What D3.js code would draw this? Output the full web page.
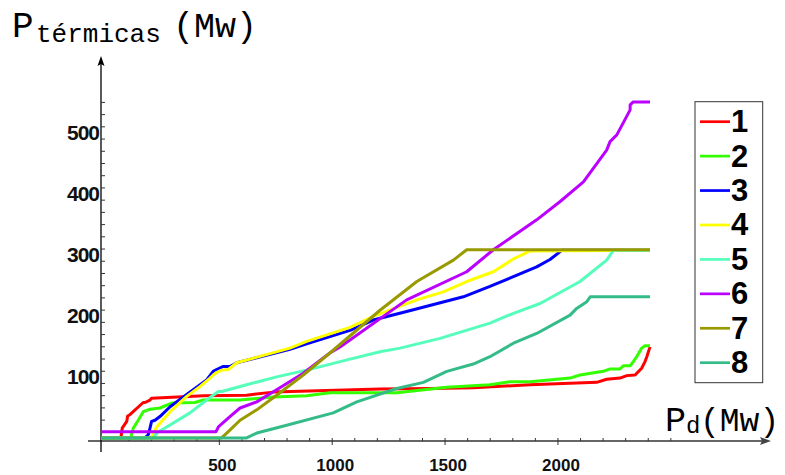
<!DOCTYPE html>
<html><head><meta charset="utf-8">
<script src="https://cdn.jsdelivr.net/npm/d3@7"></script>
<style>body{margin:0;background:#fff}</style>
</head><body>
<svg id="c" width="785" height="475"></svg>
<script>
// ---- data (Pd in MW, P térmicas in MW) ----
const seriesNames = ["1","2","3","4","5","6","7","8"];
const s1 = [[-22,0],[66,0],[72,16],[92,27],[96,36],[106,38],[165,58],[173,58],[195,62],[202,65],[431,69],[623,70],[741,75],[1214,80],[1436,81],[1627,82],[1878,87],[2174,91],[2218,96],[2277,98],[2307,102],[2344,103],[2373,114],[2388,125],[2396,133],[2410,149]];
const s2 = [[-22,0],[109,0],[121,16],[143,29],[165,43],[195,47],[239,49],[291,57],[394,58],[431,62],[594,62],[741,67],[889,69],[992,74],[1289,74],[1510,83],[1701,87],[1790,92],[1879,92],[2056,98],[2100,103],[2203,109],[2233,113],[2277,113],[2292,118],[2322,118],[2336,125],[2351,133],[2373,147],[2388,151],[2410,151]];
const s3 = [[-22,0],[173,0],[187,5],[195,16],[202,27],[217,29],[239,35],[284,51],[335,65],[417,87],[446,95],[475,109],[490,112],[520,117],[549,117],[579,123],[815,145],[889,154],[1081,176],[1184,193],[1332,207],[1583,231],[1701,248],[1908,280],[1967,292],[2019,307],[2410,307]];
const s4 = [[-22,0],[202,0],[210,8],[225,18],[284,43],[358,68],[416,84],[461,98],[475,103],[490,107],[513,111],[542,112],[579,123],[815,147],[889,158],[1081,181],[1184,199],[1377,226],[1494,239],[1598,256],[1716,272],[1805,293],[1879,306],[2410,307]];
const s5 = [[-22,0],[210,0],[225,8],[269,18],[372,41],[446,62],[498,76],[513,76],[623,87],[756,100],[889,111],[1081,129],[1214,141],[1303,147],[1480,163],[1701,188],[1805,204],[1923,220],[2100,256],[2218,291],[2248,307],[2410,307]];
const s6 = [[-22,10],[487,10],[498,18],[549,35],[594,49],[668,59],[756,79],[874,106],[992,139],[1037,149],[1332,226],[1598,272],[1716,308],[1908,357],[2012,387],[2115,419],[2218,471],[2233,485],[2263,496],[2322,537],[2322,545],[2336,550],[2410,550]];
const s7 = [[-22,0],[512,0],[535,8],[594,29],[668,46],[756,70],[874,103],[992,139],[1214,209],[1377,256],[1539,291],[1598,308],[2410,308]];
const s8 = [[-22,0],[623,0],[668,8],[771,18],[1007,41],[1111,59],[1288,81],[1406,91],[1510,109],[1627,121],[1701,133],[1805,155],[1908,171],[2056,201],[2085,212],[2130,223],[2145,231],[2410,231]];
const allSeries = [s1,s2,s3,s4,s5,s6,s7,s8];
const xTickLabels = [500,1000,1500,2000];
const yTickLabels = [100,200,300,400,500];

const colors = ["#ff0000","#33ff00","#0000ff","#ffff00","#55ffbb","#bb00ff","#999900","#33bb88"];

const svg = d3.select("#c");
const x = d3.scaleLinear().domain([-22, 2410]).range([101, 650]);
const y = d3.scaleLinear().domain([-5, 550]).range([441, 441 - 555*0.611]);
const fmt = d3.format("d");

// ---- axes ----
svg.append("line").attr("x1",88).attr("x2",766).attr("y1",441).attr("y2",441)
  .attr("stroke","#666").attr("stroke-width",1.8);
svg.append("path").attr("d","M771,441 L760,437 L762,441 L760,445 Z").attr("fill","#444");
svg.append("line").attr("x1",101).attr("x2",101).attr("y1",452).attr("y2",62)
  .attr("stroke","#000").attr("stroke-width",1.3);
svg.append("path").attr("d","M101,56 L97.5,66 L101,64 L104.5,66 Z").attr("fill","#000");

const gxm = svg.append("g").attr("transform","translate(0,441)")
  .call(d3.axisTop(x).tickValues(d3.range(100,2501,100)).tickSize(3).tickFormat(""));
gxm.select(".domain").remove();
gxm.selectAll("line").attr("stroke","#333");
const gxM = svg.append("g").attr("transform","translate(0,441)")
  .call(d3.axisBottom(x).tickValues(xTickLabels).tickSize(4).tickPadding(13.5).tickFormat(fmt));
gxM.select(".domain").remove();
gxM.selectAll("line").attr("stroke","#333");
gxM.selectAll("text").attr("font-family","'Liberation Sans',Arial,sans-serif")
  .attr("font-weight","bold").attr("font-size",17).attr("fill","#111")
  .attr("dx",3);

const gym = svg.append("g").attr("transform","translate(101,0)")
  .call(d3.axisRight(y).tickValues(d3.range(30,560,20)).tickSize(4).tickFormat(""));
gym.select(".domain").remove();
gym.selectAll("line").attr("stroke","#333");
const gyl = svg.append("g").attr("transform","translate(101,0)")
  .call(d3.axisLeft(y).tickValues(yTickLabels).tickSize(0).tickPadding(2).tickFormat(fmt));
gyl.select(".domain").remove();
gyl.selectAll("text").attr("font-family","'Liberation Sans',Arial,sans-serif")
  .attr("font-weight","bold").attr("font-size",21).attr("letter-spacing","-1px").attr("fill","#111");

// ---- lines ----
const line = d3.line().x(d=>x(d[0])).y(d=>y(d[1]));
allSeries.forEach((s,i)=>{
  svg.append("path").datum(s).attr("d",line).attr("fill","none")
    .attr("stroke",colors[i]).attr("stroke-width",3)
    .attr("stroke-linejoin","round").attr("stroke-linecap","butt");
});

// ---- axis titles ----
const mono = "'Courier New','Liberation Mono',monospace";
const t1 = svg.append("text").attr("x",12).attr("y",37).attr("font-family",mono).attr("fill","#000");
t1.append("tspan").attr("font-size",36).text("P");
t1.append("tspan").attr("font-size",26).attr("dy",5).attr("x",36).text("térmicas");
t1.append("tspan").attr("font-size",35).attr("dy",-5).attr("x",173).text("(Mw)");

const t2 = svg.append("text").attr("x",665).attr("y",431).attr("font-family",mono).attr("fill","#000");
t2.append("tspan").attr("font-size",35).text("P");
t2.append("tspan").attr("font-size",24).attr("dy",2).attr("x",686).text("d");
t2.append("tspan").attr("font-size",33).attr("dy",-2).attr("x",700).text("(Mw)");

// ---- legend ----
const lg = svg.append("g");
lg.append("rect").attr("x",695).attr("y",101.7).attr("width",67.7).attr("height",281)
  .attr("fill","#fff").attr("stroke","#333").attr("stroke-width",1);
const legY = d3.scalePoint().domain(seriesNames).range([121.7, 362.7]);
seriesNames.forEach((n,i)=>{
  const yy = legY(n);
  lg.append("line").attr("x1",700).attr("x2",730).attr("y1",yy).attr("y2",yy)
    .attr("stroke",colors[i]).attr("stroke-width",2.7);
  lg.append("text").attr("x",731).attr("y",yy+10.5).text(n)
    .attr("font-family","'Liberation Sans',Arial,sans-serif").attr("font-weight","bold")
    .attr("font-size",31).attr("fill","#000");
});
</script>
</body></html>
